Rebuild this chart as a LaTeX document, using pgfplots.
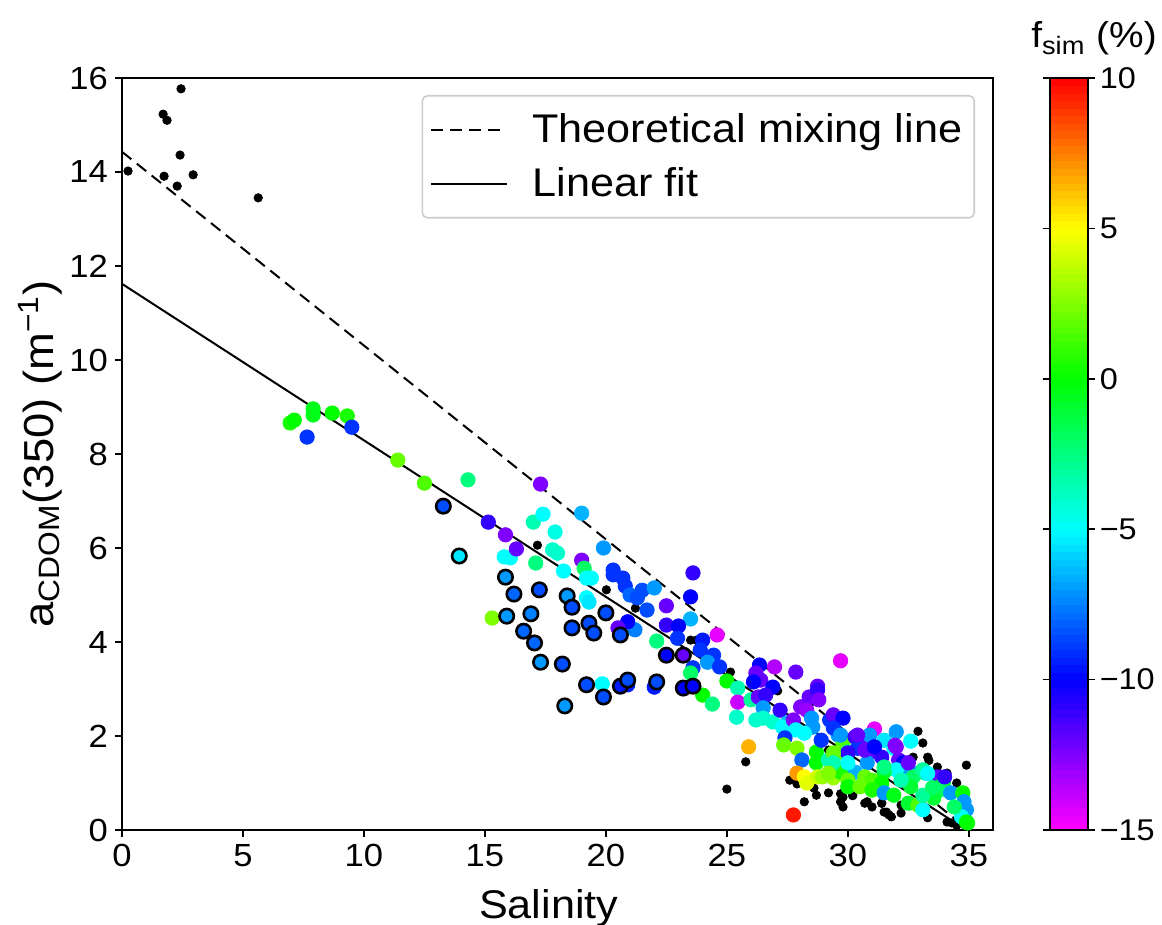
\documentclass[border=0pt]{standalone}
\usepackage{pgfplots}
\pgfplotsset{compat=1.18}
\usepackage{pgfplotstable}
\usepackage{fontspec}
\setmainfont{Liberation Sans}[FakeStretch=1.08]

\pgfplotsset{colormap={fsim}{rgb=(1,0,1) rgb=(0,0,1) rgb=(0,1,1) rgb=(0,1,0) rgb=(1,1,0) rgb=(1,0,0)}}

\pgfplotstableread{
x y
0.25 14.02
1.70 15.23
1.86 15.10
2.44 15.77
1.74 13.91
2.28 13.70
2.40 14.36
2.94 13.94
5.63 13.45
17.17 6.06
20.02 5.11
21.22 4.72
23.5 4.04
23.75 4.04
25.15 3.36
25.78 1.45
25.0 0.87
27.1 2.96
27.6 1.06
27.9 0.98
28.2 0.60
28.6 0.89
28.7 0.74
29.2 0.79
29.7 0.77
29.7 0.60
30.2 0.73
30.8 0.60
31.4 0.57
31.5 0.38
31.7 0.32
32.2 0.36
32.9 2.10
33.1 1.85
32.7 1.55
33.3 1.55
33.35 1.48
33.7 1.34
34.1 1.21
34.9 1.38
34.5 1.00
33.3 0.26
34.1 0.17
34.5 0.10
32.6 1.34
32.2 0.53
29.8 0.70
30.2 0.74
30.7 0.57
31.0 0.49
31.4 0.57
31.6 0.38
31.8 0.28
34.3 0.15
34.7 0.20
29.8 0.49
29.2 1.70
}\blackpts

\pgfplotstableread{
x y f
6.95 8.66 0.5
7.12 8.72 0
7.65 8.36 -9
7.9 8.96 -0.5
7.9 8.83 -0.5
8.69 8.87 0
9.31 8.81 0.5
9.5 8.57 -9
11.4 7.87 2
12.5 7.38 1.5
14.3 7.45 -2.5
15.14 6.55 -11
15.85 6.28 -12.5
15.8 5.81 -5
16.05 5.79 -5
15.3 4.51 2.5
17.3 7.36 -12.5
16.3 5.98 -12
17.0 6.55 -3.5
17.4 6.72 -5
17.9 6.34 -4.5
17.8 5.96 -4
18.0 5.89 -4
17.1 5.68 -2.5
18.25 5.51 -5
19.0 5.74 -12.5
19.1 5.57 -2
19.2 5.36 -5
19.4 5.36 -5
19.2 4.94 -5
19.3 4.85 -5.5
19.0 6.74 -6.5
19.9 6.00 -7
20.3 5.53 -9
20.3 5.43 -9
20.7 5.36 -9
20.8 5.19 -9
21.0 5.00 -8
21.3 4.94 -8.5
21.5 5.10 -8.5
22.0 5.15 -7
21.7 4.68 -8.5
21.2 4.26 -7.5
20.9 4.43 -10
20.5 4.30 -12
23.6 5.47 -11
23.5 4.96 -10
23.5 4.49 -6.5
22.5 4.77 -12
22.5 4.36 -11
23.0 4.34 -10
22.1 4.02 -2.5
22.96 4.08 -9
24.0 4.04 -9.5
23.9 3.83 -9
24.45 3.72 -9
24.6 4.15 -14.5
23.6 3.45 -9
24.2 3.57 -7
24.7 3.47 -9
23.5 3.34 -2
25.0 3.17 0
24.0 2.87 0
24.4 2.68 -2.5
25.45 3.02 -3.5
25.45 2.72 -14
25.4 2.40 -4
25.9 1.77 6.5
19.85 3.11 -5
22.0 3.04 -9.5
20.9 3.09 -9.5
29.7 3.60 -14.5
26.35 3.51 -10
26.97 3.47 -13.5
26.2 3.34 -12
27.85 3.36 -12
26.4 3.19 -12
26.1 3.15 -10
26.9 3.04 -10
28.75 3.06 -12
26.0 2.77 -3
26.3 2.83 -12
26.6 2.87 -11
26.5 2.60 -7
26.2 2.34 -4
26.5 2.38 -4
26.9 2.30 -4
27.2 2.55 -11
27.5 2.28 -6.5
27.3 2.19 -5
28.05 2.62 -12.5
28.4 2.83 -12
28.75 2.98 -11
28.8 2.77 -12.5
28.3 2.55 -13
27.75 2.34 -12.5
28.5 2.38 -7
28.55 2.19 -7
28.2 2.06 -5
27.85 2.13 -5
27.4 1.96 -9
27.35 1.81 2
27.9 1.74 2.5
28.1 1.49 -8
28.7 1.66 0
28.7 1.43 0
28.9 1.91 -9
29.2 1.49 -3.5
29.25 2.34 -9
29.4 2.45 -12
29.8 2.38 -10
29.6 2.02 -7
29.8 1.85 1.5
29.6 1.64 2
30.0 1.66 -3
27.9 1.21 7
28.2 1.13 5
28.3 1.00 4.5
28.75 1.13 4
28.95 1.13 3
29.4 1.11 3
29.7 1.23 0.5
27.75 0.32 9.5
31.1 2.15 -14.5
29.4 2.17 -9
29.7 2.02 -7
30.3 1.98 -11
30.6 1.91 -12
30.9 2.02 -7
31.5 1.91 -5.5
32.0 2.09 -7
31.9 1.74 -5
31.95 1.80 -12.5
32.6 1.89 -5
30.95 1.66 -12
31.4 1.55 -11
30.4 1.74 -9
30.0 1.64 -11
30.8 1.43 -7
32.1 1.49 -12
32.3 1.43 -10
32.6 1.23 -7
32.0 1.28 -5
31.5 1.23 -1
30.3 1.23 -6.5
30.0 1.43 -5
30.7 1.13 2
31.0 1.06 1.5
31.4 1.00 0
30.0 1.06 2
30.0 0.92 0
30.5 0.92 2
31.0 0.85 0.5
31.5 0.79 -7
31.9 0.74 -0.5
32.5 0.57 -1
32.9 0.53 1.5
33.1 0.43 -5
32.7 1.13 -2
33.2 1.21 -2.5
33.7 1.13 -12
33.95 1.00 -1
33.8 0.85 -2
34.25 0.79 -7
34.75 0.79 0
34.8 0.60 -7
34.9 0.43 -7
34.7 0.28 -5
34.9 0.17 0
34.4 0.49 -2
33.55 0.68 -1
33.1 0.74 -3
32.6 0.92 -1
32.2 1.06 -3.5
29.4 1.64 2
29.4 1.43 -3.5
29.2 1.21 2.5
30.4 2.02 -12
30.7 1.70 -12
31.1 1.77 -10
32.0 1.77 -12.5
32.5 1.43 -12
34.0 1.13 -11
33.1 1.28 -3
33.3 1.20 -5
31.5 1.34 -2.5
34.95 0.15 0
33.5 0.90 -2
}\colpts

\pgfplotstableread{
x y f
13.28 6.89 -8.5
13.94 5.83 -5.5
15.85 5.38 -7
16.2 5.02 -8
17.25 5.11 -8.5
18.4 4.98 -7
18.6 4.74 -8.5
15.9 4.55 -7
16.9 4.60 -7.5
16.6 4.23 -8
17.05 3.98 -8
18.6 4.30 -8.5
19.3 4.40 -8.5
19.5 4.19 -8.5
20.0 4.62 -8.5
17.3 3.57 -7
18.2 3.53 -8.5
19.2 3.09 -8.5
19.9 2.83 -8.5
18.3 2.64 -7
20.6 4.15 -8.5
20.6 3.06 -9.5
20.9 3.19 -8.5
22.1 3.15 -8.5
22.5 3.72 -10
23.2 3.72 -12
23.2 3.02 -10
23.6 3.06 -10
}\edgepts

\begin{document}
\begin{tikzpicture}
\path[use as bounding box] (-61pt,-47.5pt) rectangle (520pt,415pt);
\begin{axis}[
  scale only axis,
  width=435.5pt, height=376pt,
  xmin=0, xmax=36, ymin=0, ymax=16,
  xtick={0,5,...,35}, ytick={0,2,...,16},
  xtick pos=left, ytick pos=left,
  tick align=outside,
  major tick length=3.5pt,
  tick style={black, line width=0.8pt},
  axis line style={line width=0.8pt},
  /pgf/number format/assume math mode=true,
  tick label style={font=\fontsize{16}{19}\selectfont},
  xlabel={Salinity},
  ylabel={a\textsubscript{CDOM}(350) (m\textsuperscript{−1})},
  xlabel style={font=\fontsize{20}{24}\selectfont, at={(axis description cs:0.49,-0.104)}, anchor=center},
  ylabel style={font=\fontsize{21}{25}\selectfont, at={(axis description cs:-0.094,0.5)}, anchor=center, rotate=0},
  colormap name=fsim,
  point meta min=-15, point meta max=10,
  colorbar sampled,
  colorbar shift/.style={xshift=27.5pt},
  colorbar style={
    samples=101,
    width=19pt,
    ytick={-15,-10,-5,0,5,10},
    yticklabels={−15,−10,−5,0,5,10},
    tick align=outside,
    major tick length=3.5pt,
    tick style={black, line width=0.8pt},
    axis line style={line width=0.8pt},
    yticklabel style={font=\fontsize{15}{18}\selectfont, xshift=-1pt},
  },
  legend style={at={(1,1)}, anchor=north east, xshift=-9pt, yshift=-8.5pt,
    draw=black!20, line width=0.8pt, rounded corners=2.5pt,
    font=\fontsize{20}{24}\selectfont,
    inner xsep=4pt, inner ysep=7pt, row sep=7pt,
    /tikz/column sep=10pt},
  legend cell align=left,
  legend image code/.code={\draw[#1] (0pt,0pt) -- (38pt,0pt);},
]
\addplot[only marks, mark=*, mark size=2.1pt, black, forget plot] table[x=x, y=y] {\blackpts};
\addplot[scatter, only marks, mark=*, mark size=3.6pt, scatter src=explicit,
  scatter/use mapped color={draw=mapped color, fill=mapped color}, forget plot]
  table[x=x, y=y, meta=f] {\colpts};
\addplot[scatter, only marks, mark=*, mark size=3.6pt, scatter src=explicit,
  mark options={line width=1.3pt},
  scatter/use mapped color={draw=black, fill=mapped color}, forget plot]
  table[x=x, y=y, meta=f] {\edgepts};
\addplot[black, line width=1pt, dash pattern=on 6pt off 3.5pt] coordinates {(0,14.43) (35,0)};
\addlegendentry{Theoretical mixing line}
\addplot[black, line width=1pt] coordinates {(0,11.62) (34.9,0)};
\addlegendentry{Linear fit}
\end{axis}
\node[anchor=base, font=\fontsize{18}{22}\selectfont] at (486pt,391pt) {f\textsubscript{sim} (\%)};
\end{tikzpicture}
\end{document}
